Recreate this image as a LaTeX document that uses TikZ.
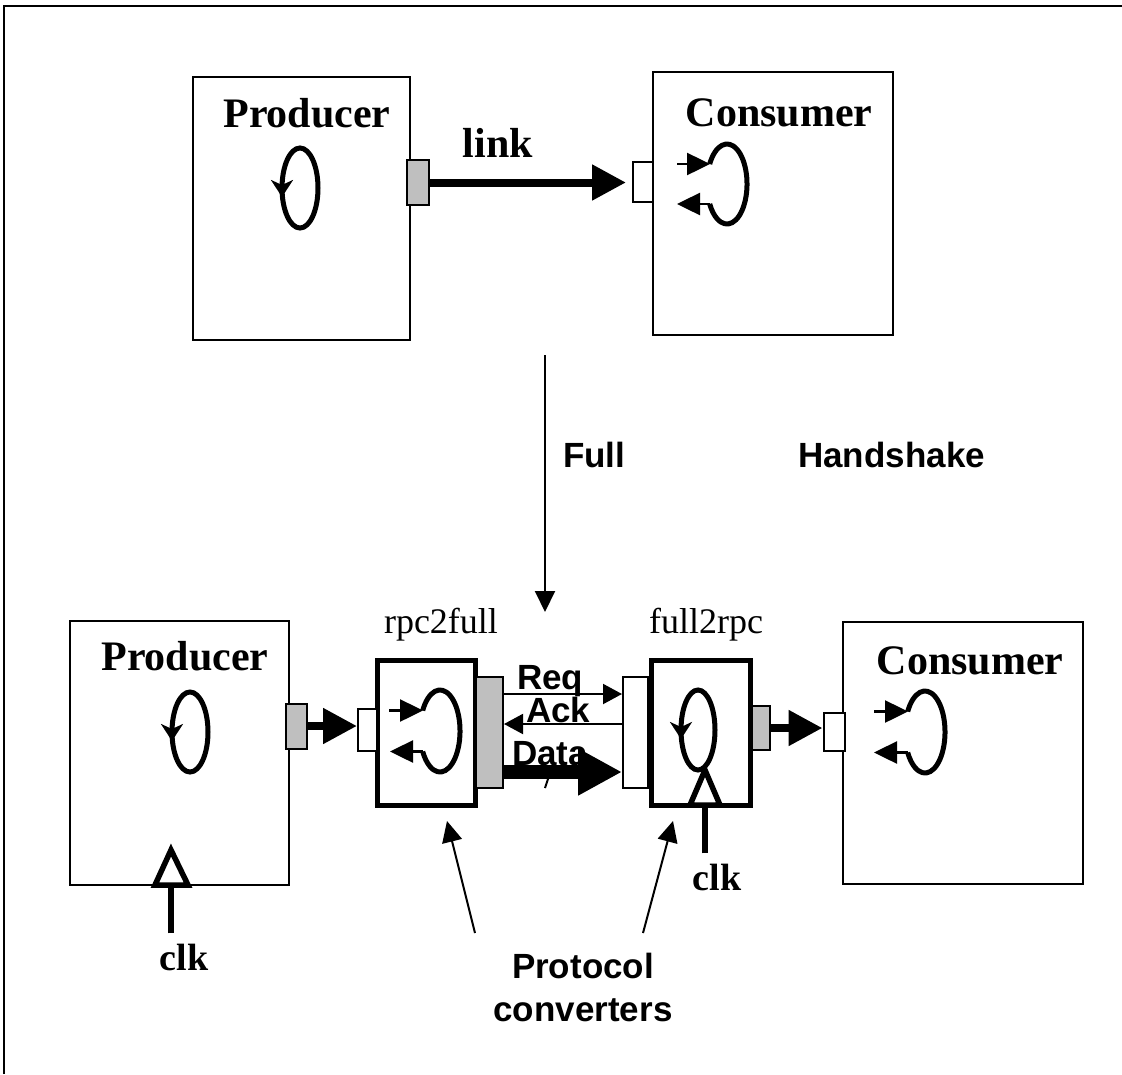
\documentclass[tikz,border=0pt]{standalone}
\usepackage{fontspec}
\setmainfont{Liberation Serif}
\setsansfont{Liberation Sans}
\usetikzlibrary{arrows.meta}

\begin{document}
\begin{tikzpicture}[
  x=1pt, y=-1pt,
  unit/.style={rectangle, draw, line width=2.5pt, inner sep=0pt},
  conv/.style={rectangle, draw, line width=5pt, inner sep=0pt},
  outport/.style={rectangle, draw, fill=black!25, line width=2pt, inner sep=0pt},
  inport/.style={rectangle, draw, fill=white, line width=2pt, inner sep=0pt},
  title/.style={font=\fontsize{42}{48}\selectfont\bfseries, inner sep=0pt, anchor=base},
  convname/.style={font=\fontsize{36}{42}\selectfont, inner sep=0pt, anchor=base},
  clklabel/.style={font=\fontsize{38}{44}\selectfont\bfseries, inner sep=0pt, anchor=base},
  siglabel/.style={font=\sffamily\bfseries\fontsize{35}{43}\selectfont, inner sep=0pt, anchor=base west},
  loopline/.style={line width=5pt},
  looptip/.style={-{Stealth[length=17pt,width=22pt,inset=5pt]}, line width=4pt},
  loopio/.style={-{Triangle[length=23pt,width=22pt]}, line width=2.5pt},
  link/.style={-{Triangle[length=34pt,width=34pt]}, line width=8pt},
  dataarrow/.style={-{Triangle[length=44pt,width=44pt]}, line width=14pt},
  sigarrow/.style={-{Triangle[length=19pt,width=20pt]}, line width=2pt},
  thinarrow/.style={-{Triangle[length=21pt,width=20pt]}, line width=2pt},
  clkmark/.style={line width=5.5pt, line join=miter, fill=white},
  clkstem/.style={line width=6pt, shorten <=10pt}
]
\useasboundingbox (0,0) rectangle (1122,1074);

% Frame (top and left edges only)
\draw[line width=2.5pt] (4,1074) -- (4,6) -- (1122,6);

% Top row: producer and consumer joined by one link
\node[unit, minimum width=217pt, minimum height=263pt] (prod1) at (301.5,208.5) {};
\node[unit, minimum width=240pt, minimum height=263pt] (cons1) at (773,203.5) {};
\node[title] (prodlbl1) at (307,127) {Producer};
\node[title] (conslbl1) at (779,126) {Consumer};
\node[outport, minimum width=22pt, minimum height=45pt] (pout1) at (418,182.5) {};
\node[inport, minimum width=20pt, minimum height=40pt] (cin1) at (643,182) {};
\node[title] (linklbl) at (498,157) {link};
\draw[link, shorten >=6pt] (pout1.east) -- (pout1.east -| cin1.west);

% Loops of the top row
\coordinate (ploop1) at (300,188);
\draw[loopline] (ploop1) ellipse [x radius=18pt, y radius=40pt];
\draw[looptip] ([xshift=-18pt,yshift=7pt]ploop1) -- ([xshift=-18pt,yshift=-9pt]ploop1);
\coordinate (cloop1) at (727,184);
\draw[loopline] ([xshift=-17.3pt,yshift=20pt]cloop1) arc[start angle=150, end angle=-150, x radius=20pt, y radius=40pt];
\draw[loopio] ([xshift=-50pt,yshift=20pt]cloop1) -- ([xshift=-17pt,yshift=20pt]cloop1);
\draw[loopio] ([xshift=-17pt,yshift=-20pt]cloop1) -- ([xshift=-50pt,yshift=-20pt]cloop1);

% Refinement arrow
\coordinate (fhs) at (545,355);
\coordinate (fhe) at (545,612);
\draw[thinarrow] (fhs) -- (fhe);
\node[siglabel] (fulllbl) at (563,467) {Full};
\node[siglabel] (hslbl) at (798,467) {Handshake};

% Bottom row: units
\node[unit, minimum width=219pt, minimum height=264pt] (prod2) at (179.5,753) {};
\node[unit, minimum width=240pt, minimum height=262pt] (cons2) at (963,753) {};
\node[conv, minimum width=98pt, minimum height=145pt] (rbox) at (426,732.5) {};
\node[conv, minimum width=99pt, minimum height=145pt] (fbox) at (700.5,732.5) {};
\node[title] (prodlbl2) at (185,670) {Producer};
\node[title] (conslbl2) at (970,674) {Consumer};
\node[convname] (rname) at (441,633) {rpc2full};
\node[convname] (fname) at (706,633) {full2rpc};

% Bottom row: ports
\node[outport, minimum width=21pt, minimum height=45pt] (pout2) at (296.5,726) {};
\node[inport, minimum width=19pt, minimum height=42pt] (rin) at (367.5,730) {};
\node[outport, minimum width=27pt, minimum height=111pt] (rport) at (489.5,732.5) {};
\node[inport, minimum width=25pt, minimum height=111pt] (fport) at (635.5,732.5) {};
\node[outport, minimum width=18pt, minimum height=44pt] (fout) at (761,728) {};
\node[inport, minimum width=21pt, minimum height=38pt] (cin2) at (834,731.5) {};

% Bottom row: links
\draw[link] (pout2.east) -- (pout2.east -| rin.west);
\draw[link] (fout.east) -- (fout.east -| cin2.west);
\draw[sigarrow] ([yshift=38.5pt]rport.east) -- ([yshift=38.5pt]fport.west);
\draw[sigarrow] ([yshift=8.5pt]fport.west) -- ([yshift=8.5pt]rport.east);
\draw[dataarrow] ([yshift=-39.5pt]rport.east) -- ([yshift=-39.5pt]fport.west);
\draw[line width=2pt] (545,788) -- (552,767);
\node[siglabel] (reqlbl) at (517,689) {Req};
\node[siglabel] (acklbl) at (526,722) {Ack};
\node[siglabel] (datalbl) at (512,765) {Data};

% Bottom row: loops
\coordinate (ploop2) at (190,732);
\draw[loopline] (ploop2) ellipse [x radius=18pt, y radius=40pt];
\draw[looptip] ([xshift=-18pt,yshift=7pt]ploop2) -- ([xshift=-18pt,yshift=-9pt]ploop2);
\coordinate (floop) at (698,730);
\draw[loopline] (floop) ellipse [x radius=17pt, y radius=40pt];
\draw[looptip] ([xshift=-17pt,yshift=7pt]floop) -- ([xshift=-17pt,yshift=-9pt]floop);
\coordinate (rloop) at (440,731);
\draw[loopline] ([xshift=-17.3pt,yshift=20.5pt]rloop) arc[start angle=150, end angle=-150, x radius=20pt, y radius=41pt];
\draw[loopio] ([xshift=-51pt,yshift=20.5pt]rloop) -- ([xshift=-17pt,yshift=20.5pt]rloop);
\draw[loopio] ([xshift=-17pt,yshift=-20.5pt]rloop) -- ([xshift=-50pt,yshift=-20.5pt]rloop);
\coordinate (cloop2) at (925,732);
\draw[loopline] ([xshift=-17.3pt,yshift=20.5pt]cloop2) arc[start angle=150, end angle=-150, x radius=20pt, y radius=41pt];
\draw[loopio] ([xshift=-51pt,yshift=20.5pt]cloop2) -- ([xshift=-17pt,yshift=20.5pt]cloop2);
\draw[loopio] ([xshift=-17pt,yshift=-20.5pt]cloop2) -- ([xshift=-51pt,yshift=-20.5pt]cloop2);

% Clock inputs
\coordinate (pclk) at (171,885);
\draw[clkmark] ([xshift=-16pt]pclk) -- ([yshift=35pt]pclk) -- ([xshift=17pt]pclk) -- cycle;
\node[clklabel] (clk1) at (184,970) {clk};
\draw[clkstem] (clk1.north -| pclk) -- (pclk);
\coordinate (fclk) at (705,805);
\draw[clkmark] ([xshift=-15pt]fclk) -- ([yshift=35pt]fclk) -- ([xshift=15pt]fclk) -- cycle;
\node[clklabel] (clk2) at (717,890) {clk};
\draw[clkstem] (clk2.north -| fclk) -- (fclk);

% Protocol converters
\node[siglabel, anchor=base, align=center] (pclbl) at (583,1021) {Protocol\\converters};
\coordinate (pcl) at (475,933);
\coordinate (pcr) at (643,933);
\draw[thinarrow] (pcl) -- ([xshift=21pt,yshift=-13.5pt]rbox.south);
\draw[thinarrow] (pcr) -- ([xshift=-27.5pt,yshift=-13.5pt]fbox.south);

\end{tikzpicture}
\end{document}
